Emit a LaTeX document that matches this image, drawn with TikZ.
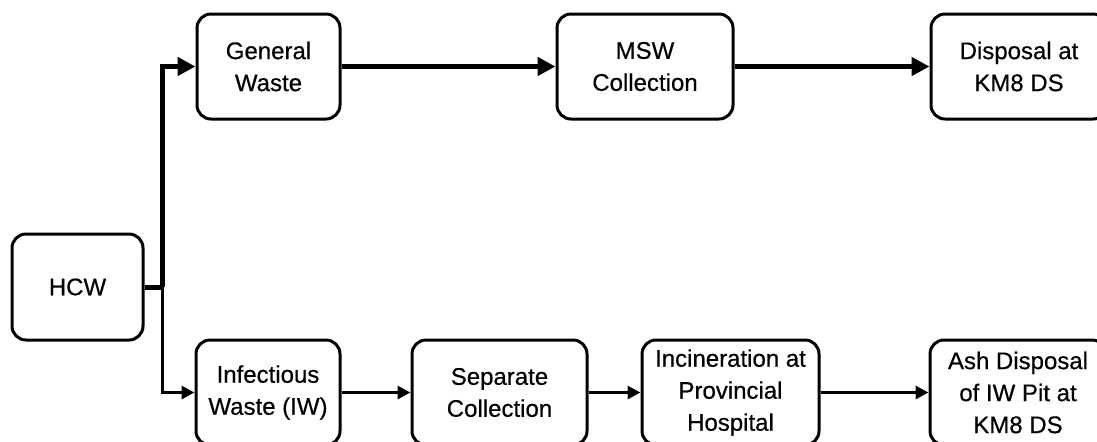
\documentclass[tikz,border=0pt]{standalone}
\usepackage{fontspec}
\setmainfont{Liberation Sans}[FakeBold=0.5]
\usetikzlibrary{arrows.meta}
\tikzset{>=Triangle}
\tikzset{
  wbox/.style={draw, line width=1.5pt, rounded corners=7pt, align=center,
    inner sep=0pt, minimum height=52.5pt, font=\fontsize{12}{16}\selectfont},
  heavyflow/.style={line width=2.5pt, -{Triangle[length=9pt,width=9pt]}},
  lightflow/.style={line width=1.5pt, -{Triangle[length=6.5pt,width=6.5pt]}}
}

\begin{document}
\begin{tikzpicture}[x=0.5pt,y=-0.5pt]
    \useasboundingbox (0,0) rectangle (1097,441);
    \clip (0,0) rectangle (1097,441);

    % source
    \node[wbox, minimum width=65.5pt, minimum height=53pt] (hcw) at (77.5,287) {HCW};
    \coordinate (split) at (162,287);

    % general waste stream
    \node[wbox, minimum width=71.5pt] (gen) at (268.5,66.5) {General\\Waste};
    \node[wbox, minimum width=88pt] (msw) at (645,66.5) {MSW\\Collection};
    \node[wbox, minimum width=88pt] (disp) at (1019,66.5) {Disposal at\\KM8 DS};

    % infectious waste stream
    \node[wbox, minimum width=72pt] (iw) at (268,392.5) {Infectious\\Waste (IW)};
    \node[wbox, minimum width=87.5pt] (sep) at (499.5,392.5) {Separate\\Collection};
    \node[wbox, minimum width=88.5pt] (inc) at (730.5,392.5) {Incineration at\\Provincial\\Hospital};
    \node[wbox, minimum width=88pt] (ash) at (1018,392.5) {Ash Disposal\\of IW Pit at\\KM8 DS};

    \draw[line width=2.5pt] (hcw.east) -- (split);
    \draw[heavyflow] (split) |- (gen.west);
    \draw[lightflow] (split) |- (iw.west);

    \foreach \a/\b in {gen/msw,msw/disp}
      \draw[heavyflow] (\a.east) -- (\b.west);
    \foreach \a/\b in {iw/sep,sep/inc,inc/ash}
      \draw[lightflow] (\a.east) -- (\b.west);
  \end{tikzpicture}
\end{document}
